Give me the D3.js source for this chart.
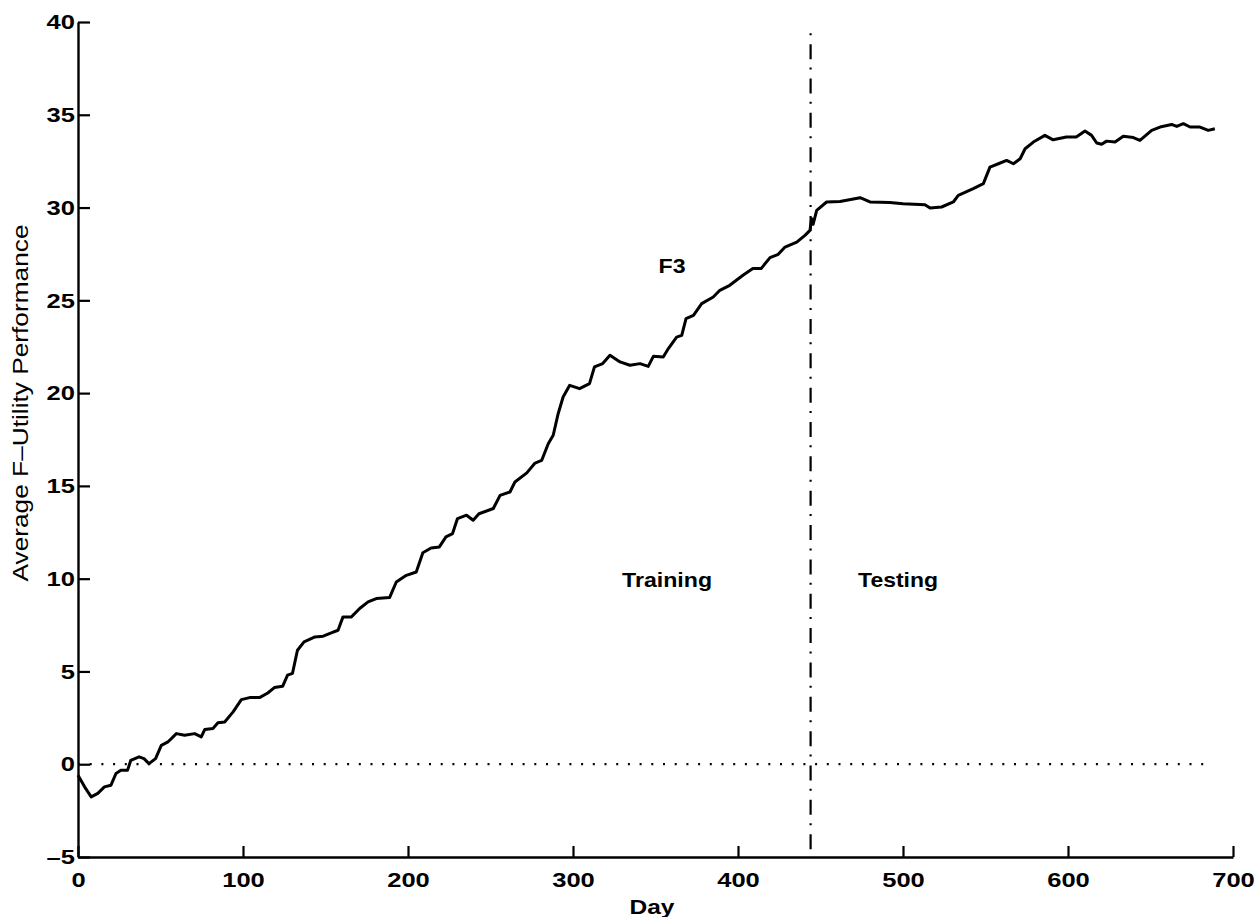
<!DOCTYPE html>
<html>
<head>
<meta charset="utf-8">
<script src="https://cdn.jsdelivr.net/npm/d3@7"></script>
<style>
  body { margin: 0; background: #fff; }
  svg text { font-family: "Liberation Sans", Arial, Helvetica, sans-serif; fill: #000; }
</style>
</head>
<body>
<div class="graphContainer"></div>
<script>
// size of the picture
const w = 1256;
const h = 917;

// F3 curve
const days = [0, 4, 8, 12, 16, 20, 23, 26, 30, 32, 37, 40, 43, 47, 50.5, 54.5, 59.6, 64.6,
  70.7, 74.7, 76.8, 81.8, 84.8, 88.9, 94, 99, 104, 110, 115, 119, 124, 127, 130, 133,
  137, 143.6, 148.6, 153.5, 157.6, 160.6, 165.7, 170.7, 175.8, 180.8, 188.9, 192.9, 199,
  205, 209, 214, 219, 223, 227, 230, 235.5, 239.5, 243, 251.7, 255.8, 261.8, 264.8, 272,
  277, 281, 285, 288, 291, 294, 298, 304, 310, 313, 318, 322.4, 328.5, 334.5, 340.6,
  345.6, 348.7, 354.7, 357.8, 362.8, 365.9, 368.5, 373, 378, 385, 389, 395, 403, 409,
  414, 419.4, 424.4, 428.5, 435.6, 440.6, 443.6, 444.6, 445.5, 447.7, 453.7, 461.8, 474,
  480, 492, 500, 513.3, 516.4, 523.4, 530.5, 533.5, 542.6, 548.7, 552.7, 557.8, 562.8,
  566.9, 571, 574, 579, 586, 591, 599, 605, 610.3, 614.3, 617.4, 620.4, 623.4, 628.5,
  633.5, 639.6, 643.6, 650.7, 655.8, 662.8, 665.9, 669.9, 674, 680, 685, 689];
const perf = [-0.6, -1.22, -1.76, -1.57, -1.22, -1.13, -0.5, -0.33, -0.33, 0.21, 0.4, 0.3,
  0.03, 0.3, 1.02, 1.2, 1.65, 1.56, 1.65, 1.47, 1.87, 1.93, 2.23, 2.28, 2.82, 3.48, 3.59,
  3.59, 3.84, 4.13, 4.2, 4.8, 4.9, 6.14, 6.59, 6.86, 6.9, 7.08, 7.22, 7.94, 7.94, 8.39,
  8.75, 8.93, 8.99, 9.82, 10.18, 10.36, 11.4, 11.65, 11.71, 12.25, 12.43, 13.24, 13.42,
  13.15, 13.5, 13.78, 14.49, 14.67, 15.21, 15.7, 16.23, 16.37, 17.27, 17.73, 18.89, 19.79,
  20.42, 20.24, 20.51, 21.41, 21.59, 22.04, 21.68, 21.5, 21.59, 21.44, 21.98, 21.95, 22.4,
  23.02, 23.11, 24.01, 24.19, 24.82, 25.18, 25.54, 25.81, 26.35, 26.71, 26.71, 27.3, 27.48,
  27.87, 28.14, 28.5, 28.77, 29.4, 29.1, 29.85, 30.3, 30.33, 30.53, 30.3, 30.27, 30.21,
  30.15, 29.97, 30.03, 30.3, 30.66, 31.02, 31.29, 32.18, 32.36, 32.54, 32.36, 32.63, 33.17,
  33.53, 33.89, 33.65, 33.8, 33.8, 34.12, 33.89, 33.48, 33.41, 33.58, 33.53, 33.84, 33.77,
  33.62, 34.16, 34.34, 34.48, 34.37, 34.52, 34.34, 34.34, 34.16, 34.25];

const xTicks = [0, 100, 200, 300, 400, 500, 600, 700];
const yTicks = [-5, 0, 5, 10, 15, 20, 25, 30, 35, 40];

// split between training and testing, and the zero reference
const splitDay = 444;
const splitTop = 39.4;
const zeroLine = [0, 686];

// text labels placed in data units (baseline)
const notes = [
  { text: "F3", day: 360, val: 26.45, len: 27 },
  { text: "Training", day: 357, val: 9.55, len: 90 },
  { text: "Testing", day: 497, val: 9.55, len: 80 }
];

const svg = d3.select(".graphContainer").append("svg")
  .attr("width", w)
  .attr("height", h);

const xScale = d3.scaleLinear().domain([0, 700]).range([78, 1233]);
const yScale = d3.scaleLinear().domain([-5, 40]).range([857, 22]);

// axes, ticks pointing inward like matlab
const xAxis = d3.axisBottom(xScale)
  .tickValues(xTicks)
  .tickSize(-11)
  .tickPadding(15)
  .tickSizeOuter(0)
  .tickFormat(d => String(d));

const yAxis = d3.axisLeft(yScale)
  .tickValues(yTicks)
  .tickSize(-12)
  .tickPadding(3)
  .tickSizeOuter(0)
  .tickFormat(d => d < 0 ? "\u2013" + Math.abs(d) : String(d));

const gx = svg.append("g")
  .attr("transform", "translate(0," + yScale(-5) + ")")
  .call(xAxis);

const gy = svg.append("g")
  .attr("transform", "translate(" + xScale(0) + ",0)")
  .call(yAxis);

// the scanned font is wider than Liberation, so stretch each label a bit
[gx, gy].forEach(g => {
  g.select(".domain").attr("stroke", "#000").attr("stroke-width", 2.4);
  g.selectAll(".tick line").attr("stroke", "#000").attr("stroke-width", 2.2);
  g.selectAll(".tick text")
    .style("font-size", "21px")
    .style("font-weight", "bold")
    .attr("fill", "#000")
    .attr("textLength", function() { return this.textContent.length * 14.2; })
    .attr("lengthAdjust", "spacingAndGlyphs");
});

// zero reference, dotted
svg.append("line")
  .attr("x1", xScale(zeroLine[0]))
  .attr("x2", xScale(zeroLine[1]))
  .attr("y1", yScale(0))
  .attr("y2", yScale(0))
  .attr("stroke", "#000")
  .attr("stroke-width", 2.2)
  .attr("stroke-dasharray", "2,9.7");

// training / testing split, dash-dot
svg.append("line")
  .attr("x1", xScale(splitDay))
  .attr("x2", xScale(splitDay))
  .attr("y1", yScale(splitTop))
  .attr("y2", yScale(-5) - 6)
  .attr("stroke", "#000")
  .attr("stroke-width", 2.2)
  .attr("stroke-dasharray", "2,9,15,8.35");

// the curve
const line = d3.line()
  .x((d, i) => xScale(days[i]))
  .y(d => yScale(d));

svg.append("path")
  .datum(perf)
  .attr("d", line)
  .attr("fill", "none")
  .attr("stroke", "#000")
  .attr("stroke-width", 3)
  .attr("stroke-linejoin", "round");

svg.selectAll("text.note")
  .data(notes)
  .enter()
  .append("text")
  .attr("class", "note")
  .attr("x", d => xScale(d.day))
  .attr("y", d => yScale(d.val))
  .attr("text-anchor", "middle")
  .attr("textLength", d => d.len)
  .attr("lengthAdjust", "spacingAndGlyphs")
  .style("font-size", "21px")
  .style("font-weight", "bold")
  .text(d => d.text);

// axis titles
svg.append("text")
  .attr("x", 652)
  .attr("y", 914)
  .attr("text-anchor", "middle")
  .attr("textLength", 45)
  .attr("lengthAdjust", "spacingAndGlyphs")
  .style("font-size", "21px")
  .style("font-weight", "bold")
  .text("Day");

svg.append("text")
  .attr("transform", "translate(28,403) rotate(-90)")
  .attr("text-anchor", "middle")
  .attr("textLength", 357)
  .attr("lengthAdjust", "spacingAndGlyphs")
  .style("font-size", "22px")
  .text("Average F\u2013Utility Performance");
</script>
</body>
</html>
